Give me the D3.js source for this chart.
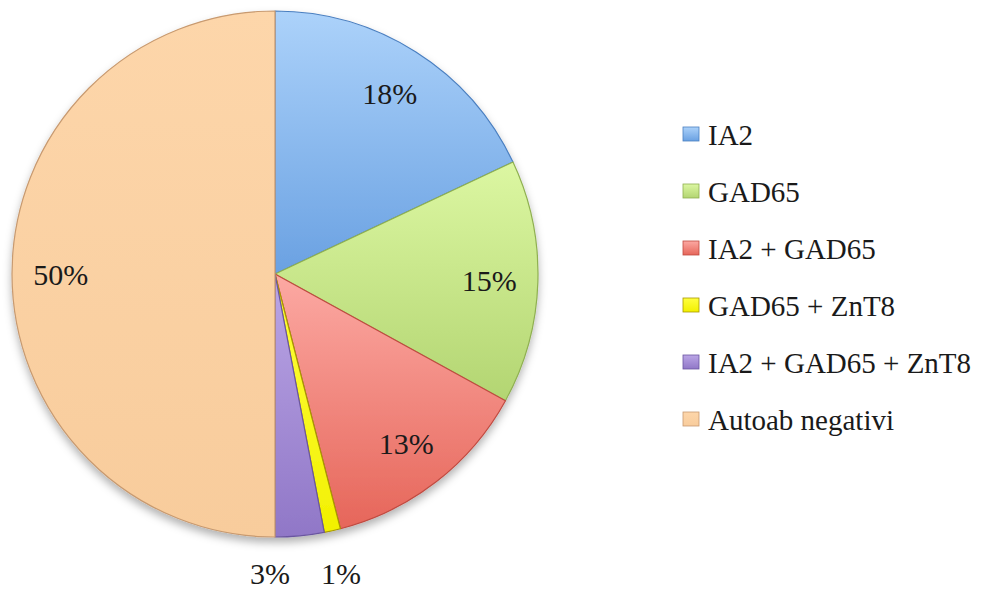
<!DOCTYPE html>
<html>
<head>
<meta charset="utf-8">
<script src="https://cdn.jsdelivr.net/npm/d3@7"></script>
<style>
  html, body { margin: 0; padding: 0; background: #ffffff; }
  svg { display: block; }
  text { font-family: "Liberation Serif", "Times New Roman", serif; fill: #1a1a1a; }
</style>
</head>
<body>
<svg id="chart" width="986" height="590"></svg>
<script>
// ---- data ----
const categories = ["IA2", "GAD65", "IA2 + GAD65", "GAD65 + ZnT8", "IA2 + GAD65 + ZnT8", "Autoab negativi"];
const percents = [18, 15, 13, 1, 3, 50];
const lightColors = ["#acd2fa", "#dcf7a2", "#fca9a3", "#ffff40", "#bba6e6", "#fdd6aa"];
const darkColors  = ["#6aa1e2", "#b3d572", "#e6665a", "#f2f000", "#9077c7", "#f8cc9c"];
const strokeColors = ["#4a7fc0", "#8fb050", "#c04a40", "#a89800", "#6a55a0", "#c89a70"];

// ---- layout ----
const cx = 275, cy = 274, R = 263;
const svg = d3.select("#chart");
const defs = svg.append("defs");

const filt = defs.append("filter").attr("id", "shadow")
  .attr("x", "-10%").attr("y", "-10%").attr("width", "120%").attr("height", "125%");
filt.append("feDropShadow").attr("dx", 0).attr("dy", 5).attr("stdDeviation", 4)
  .attr("flood-color", "#000").attr("flood-opacity", 0.3);

categories.forEach((c, i) => {
  const g = defs.append("linearGradient").attr("id", "grad" + i)
    .attr("x1", 0).attr("y1", 0).attr("x2", 0).attr("y2", 1);
  g.append("stop").attr("offset", "0%").attr("stop-color", lightColors[i]);
  g.append("stop").attr("offset", "100%").attr("stop-color", darkColors[i]);
});

const total = d3.sum(percents);
const data = categories.map((c, i) => ({ name: c, value: percents[i], i }));
const pie = d3.pie().value(d => d.value).sort(null);
const arcs = pie(data);
const arc = d3.arc().innerRadius(0).outerRadius(R);

const gPie = svg.append("g").attr("transform", `translate(${cx},${cy})`);
const slices = gPie.append("g").attr("filter", "url(#shadow)");
slices.selectAll("path").data(arcs).join("path")
  .attr("d", arc)
  .attr("fill", d => `url(#grad${d.data.i})`)
  .attr("stroke", d => strokeColors[d.data.i])
  .attr("stroke-width", 1.2)
  .attr("stroke-linejoin", "round");

// ---- labels ----
const fmt = d => Math.round(d.value / total * 100) + "%";
const inner = d3.arc().innerRadius(R * 0.815).outerRadius(R * 0.815);
let prevOut = null;
arcs.forEach(d => {
  const frac = d.value / total;
  let x, y;
  if (frac >= 0.05) {
    [x, y] = inner.centroid(d);
  } else {
    const mid = (d.startAngle + d.endAngle) / 2;
    const rr = R + 40;
    x = Math.sin(mid) * rr;
    y = R + 36;
    if (prevOut !== null && Math.abs(prevOut - x) < 71) x = prevOut - 71;
    prevOut = x;
  }
  gPie.append("text").attr("x", x).attr("y", y)
    .attr("text-anchor", "middle").attr("dominant-baseline", "central")
    .attr("font-size", 30).text(fmt(d));
});

// ---- legend ----
const legend = svg.append("g").attr("transform", "translate(683,135)");
const rows = legend.selectAll("g").data(categories).join("g")
  .attr("transform", (d, i) => `translate(0,${i * 57})`);
rows.append("rect").attr("x", 0).attr("y", -8).attr("width", 16).attr("height", 14)
  .attr("fill", (d, i) => `url(#grad${i})`)
  .attr("stroke", (d, i) => strokeColors[i]).attr("stroke-width", 0.8);
rows.append("text").attr("x", 25).attr("y", 0).attr("dominant-baseline", "central")
  .attr("font-size", 29).text(d => d);
</script>
</body>
</html>
